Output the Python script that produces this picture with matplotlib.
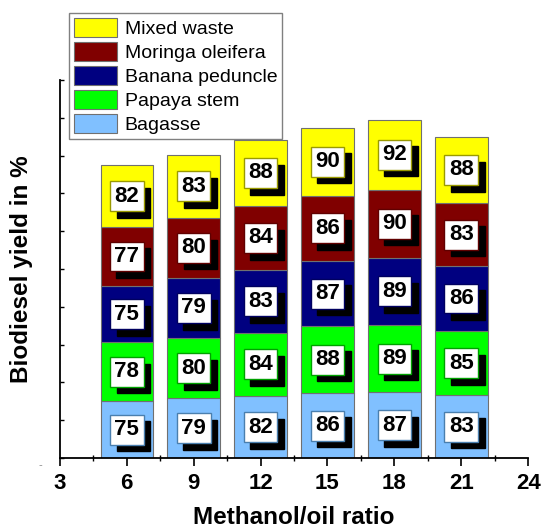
import numpy as np
import matplotlib
matplotlib.use("Agg")
import matplotlib.pyplot as plt
from matplotlib.patches import Patch
from matplotlib.ticker import MultipleLocator, NullFormatter

plt.rcParams['font.family'] = ['Liberation Sans', 'DejaVu Sans']

# data
ratios = [6, 9, 12, 15, 18, 21]
series_names = ['Bagasse', 'Papaya stem', 'Banana peduncle', 'Moringa oleifera', 'Mixed waste']
bagasse = [75, 79, 82, 86, 87, 83]
papaya = [78, 80, 84, 88, 89, 85]
banana = [75, 79, 83, 87, 89, 86]
moringa = [77, 80, 84, 86, 90, 83]
mixed = [82, 83, 88, 90, 92, 88]
series_values = [bagasse, papaya, banana, moringa, mixed]

colors = ['#80C0FF', '#00FF00', '#000080', '#800000', '#FFFF00']
box_edges = ['#4a7fae', '#00a000', '#000060', '#600000', '#9a9a00']

fig = plt.figure(figsize=(5.44, 5.29), dpi=100)
ax = fig.add_axes([0.110, 0.134, 0.861, 0.715])

bottom = np.zeros(len(ratios))
for name, vals, col, ecol in zip(series_names, series_values, colors, box_edges):
    vals = np.array(vals, dtype=float)
    ax.bar(ratios, vals, width=2.35, bottom=bottom, color=col,
           edgecolor='#707070', linewidth=0.8, zorder=2)
    centers = bottom + vals / 2
    for x, yc, v in zip(ratios, centers, vals):
        # shadow box
        ax.annotate(f'{int(v)}', (x, yc), xytext=(4.8, -4.8), textcoords='offset points',
                    ha='center', va='center', fontsize=16, fontweight='bold', color='black',
                    bbox=dict(boxstyle='square,pad=0.2', fc='black', ec='black'),
                    zorder=3)
        ax.annotate(f'{int(v)}', (x, yc), ha='center', va='center', fontsize=16,
                    fontweight='bold', color='black',
                    bbox=dict(boxstyle='square,pad=0.2', fc='white', ec=ecol, lw=1.0),
                    zorder=4)
    bottom = bottom + vals

ax.set_xlim(3, 24)
ax.set_ylim(0, 500)
ax.set_xticks([3, 6, 9, 12, 15, 18, 21, 24])
ax.xaxis.set_minor_locator(MultipleLocator(1.5))
ax.yaxis.set_major_locator(MultipleLocator(50))
ax.yaxis.set_major_formatter(NullFormatter())
ax.tick_params(axis='x', which='major', direction='out', length=6, width=1.2,
               labelsize=16, pad=5)
ax.tick_params(axis='x', which='minor', direction='inout', length=5, width=1)
ax.tick_params(axis='y', which='major', direction='in', length=3, width=1)
for lbl in ax.get_xticklabels():
    lbl.set_fontweight('bold')

ax.spines['top'].set_visible(False)
ax.spines['right'].set_visible(False)
ax.spines['left'].set_linewidth(1.3)
ax.spines['bottom'].set_linewidth(1.3)

ax.set_xlabel('Methanol/oil ratio', fontsize=17.5, fontweight='bold', labelpad=8)
ax.set_ylabel('Biodiesel yield in %', fontsize=17.5, fontweight='bold', labelpad=16)
fig.text(0.075, 0.120, '-', fontsize=8, color='#888888', ha='center', va='center')

handles = [Patch(facecolor=c, edgecolor='#707070', lw=0.8) for c in colors]
fig.legend(handles[::-1], series_names[::-1], loc='upper left',
           bbox_to_anchor=(0.127, 0.975), fontsize=14, frameon=True, fancybox=False,
           edgecolor='#808080', framealpha=1, handlelength=2.2, handleheight=1.12,
           labelspacing=0.2, borderpad=0.25, handletextpad=0.4, borderaxespad=0)

fig.savefig('out.png', dpi=100)
